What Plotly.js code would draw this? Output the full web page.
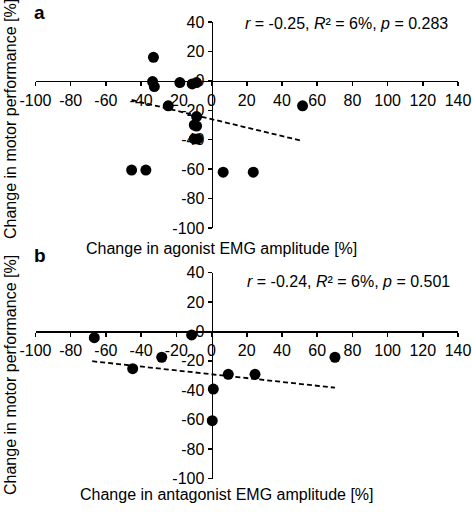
<!DOCTYPE html>
<html><head><meta charset="utf-8">
<script src="https://cdn.plot.ly/plotly-3.0.1.min.js"></script>
<style>html,body{margin:0;padding:0;background:#fff}</style>
</head><body><div id="chart" style="width:472px;height:512px"></div>
<script>
// Panel a: agonist EMG amplitude vs motor performance
const agonistX = [-33, -33.5, -32.5, -18, -11, -8.5, -24.6, -8.5, -9.8, -8.5, -9.8, -7.9, -45.4, -37.3, 6.6, 23.7, 51.7];
const agonistY = [16, -0.5, -3.9, -1.2, -2.1, -1.2, -17, -24.3, -30, -30.7, -39.5, -39.5, -60.6, -60.6, -62.1, -62.1, -17];
const agonistTrendX = [-45.4, 51.2];
const agonistTrendY = [-13, -40.7];
// Panel b: antagonist EMG amplitude vs motor performance
const antagonistX = [-66.6, -11.3, -28.3, -44.8, 9.5, 24.7, 70.1, 1, 0.4];
const antagonistY = [-4.3, -2.4, -17.6, -25.4, -29.2, -29.2, -17.6, -39.2, -60.7];
const antagonistTrendX = [-67.8, 70.1];
const antagonistTrendY = [-20.3, -38.3];
// Ticks
const xTickVals = [-100, -80, -60, -40, -20, 0, 20, 40, 60, 80, 100, 120, 140];
const xTickText = xTickVals.map(v => String(v));
const yTickVals = [-100, -80, -60, -40, -20, 0, 20, 40];
const yTickText = yTickVals.map(v => String(v));
const statsA = '<i>r</i> = -0.25, <i>R</i>² = 6%, <i>p</i> = 0.283';
const statsB = '<i>r</i> = -0.24, <i>R</i>² = 6%, <i>p</i> = 0.501';
const xTitleA = 'Change in agonist EMG amplitude [%]';
const xTitleB = 'Change in antagonist EMG amplitude [%]';
const yTitle = 'Change in motor performance [%]';

const W = 472, H = 512;
const FONT = 'Liberation Sans, Arial, sans-serif';
const xRange = [-100, 140], yRange = [-100, 40];
const xDom = [35.5 / W, 458 / W];
const yDomA = [1 - 228 / H, 1 - 22 / H];
const yDomB = [1 - 478.5 / H, 1 - 272.5 / H];
function frac(dom, range, v) { return dom[0] + (v - range[0]) / (range[1] - range[0]) * (dom[1] - dom[0]); }
const px = v => v / W, py = v => 1 - v / H;

const axBase = {
  showgrid: false, zeroline: false, showline: true, linecolor: '#000', linewidth: 1.5,
  ticks: 'outside', ticklen: 4, tickwidth: 1.5, tickcolor: '#000',
  tickfont: { family: FONT, size: 16, color: '#000' }, tickmode: 'array', fixedrange: true
};
const xa = (yDom) => Object.assign({}, axBase, {
  domain: xDom, range: xRange, tickvals: xTickVals, ticktext: xTickText,
  anchor: 'free', position: frac(yDom, yRange, 0), side: 'bottom'
});
const ya = (yDom) => Object.assign({}, axBase, {
  domain: yDom, range: yRange, tickvals: yTickVals, ticktext: yTickText,
  anchor: 'free', position: frac(xDom, xRange, 0), side: 'left'
});

const marker = { color: '#000', size: 11 };
const dashLine = { color: '#000', width: 1.8, dash: '5px,3px' };
const traces = [
  { x: agonistTrendX, y: agonistTrendY, mode: 'lines', line: dashLine, xaxis: 'x', yaxis: 'y', hoverinfo: 'skip' },
  { x: agonistX, y: agonistY, mode: 'markers', marker: marker, xaxis: 'x', yaxis: 'y', cliponaxis: false },
  { x: antagonistTrendX, y: antagonistTrendY, mode: 'lines', line: dashLine, xaxis: 'x2', yaxis: 'y2', hoverinfo: 'skip' },
  { x: antagonistX, y: antagonistY, mode: 'markers', marker: marker, xaxis: 'x2', yaxis: 'y2', cliponaxis: false }
];

const txt = (text, x, y, opts) => Object.assign({
  text: text, xref: 'paper', yref: 'paper', x: px(x), y: py(y), showarrow: false,
  xanchor: 'center', yanchor: 'middle', font: { family: FONT, size: 16, color: '#000' }
}, opts || {});

const layout = {
  width: W, height: H, margin: { l: 0, r: 0, t: 0, b: 0 },
  paper_bgcolor: '#fff', plot_bgcolor: 'rgba(0,0,0,0)', showlegend: false,
  xaxis: xa(yDomA), yaxis: ya(yDomA),
  xaxis2: xa(yDomB), yaxis2: ya(yDomB),
  annotations: [
    txt('<b>a</b>', 39.5, 0, { yanchor: 'top', font: { family: FONT, size: 19, color: '#000' } }),
    txt('<b>b</b>', 40, 255, { font: { family: FONT, size: 19, color: '#000' } }),
    txt(statsA, 243.3, 23.3, { xanchor: 'left' }),
    txt(statsB, 245, 281, { xanchor: 'left' }),
    txt(xTitleA, 221, 248),
    txt(xTitleB, 227, 494),
    txt(yTitle, 10, 119, { textangle: -90 }),
    txt(yTitle, 10, 375, { textangle: -90 })
  ]
};
Plotly.newPlot('chart', traces, layout, { staticPlot: true, displayModeBar: false });
</script></body></html>
